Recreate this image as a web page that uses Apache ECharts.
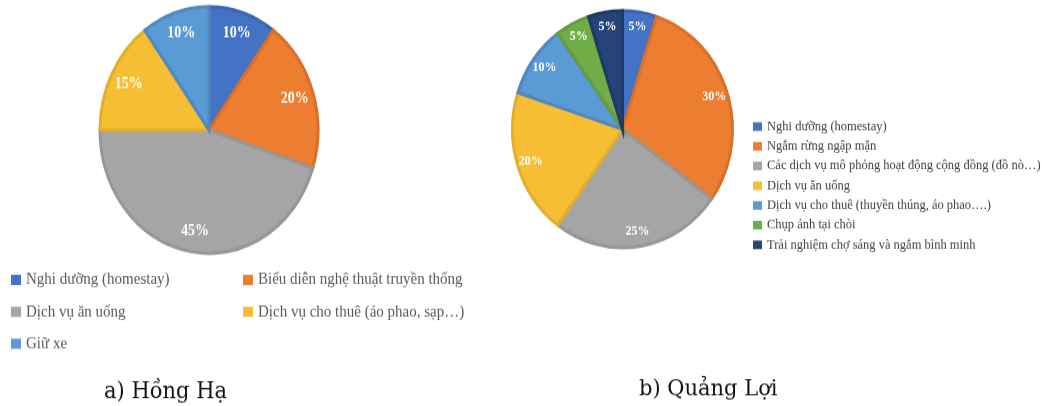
<!DOCTYPE html>
<html><head><meta charset="utf-8">
<script src="https://cdn.jsdelivr.net/npm/echarts@6/dist/echarts.min.js"></script>
<style>
html,body{margin:0;padding:0;background:#fff;width:1046px;height:406px;overflow:hidden;position:relative}
#a{position:absolute;left:0;top:0;width:500px;height:359px;transform:scaleY(1.131);transform-origin:0 0}
#b{position:absolute;left:500px;top:0;width:546px;height:377px;transform:scaleY(1.077);transform-origin:0 0}
</style></head><body>
<div id="a"></div><div id="b"></div>
<script>
const namesA = ['Nghi dưỡng (homestay)','Biểu diễn nghệ thuật truyền thống','Dịch vụ ăn uống','Dịch vụ cho thuê (áo phao, sạp…)','Giữ xe'];
const valuesA = [10,20,45,15,10];
const namesB = ['Nghi dưỡng (homestay)','Ngắm rừng ngập mặn','Các dịch vụ mô phỏng hoạt động cộng đồng (đồ nò…)','Dịch vụ ăn uống','Dịch vụ cho thuê (thuyền thúng, áo phao….)','Chụp ảnh tại chòi','Trải nghiệm chợ sáng và ngắm bình minh'];
const valuesB = [5,30,25,20,10,5,5];
const captionA = 'a) Hồng Hạ';
const captionB = 'b) Quảng Lợi';

const fillA = ['#4472C4','#ED7D31','#A5A5A5','#F6BF33','#5B9BD5'];
const edgeA = ['#3C66B2','#D8702A','#979797','#E3AE2C','#5089C0'];
const fillB = ['#4472C4','#ED7D31','#A5A5A5','#F6BF33','#5B9BD5','#70AD47','#264478'];
const edgeB = ['#3C66B2','#D8702A','#979797','#E3AE2C','#5089C0','#659C40','#203A66'];

const serif = '"Liberation Serif", "DejaVu Serif", serif';
const capFont = '"DejaVu Serif", serif';

function mk(names, values, fill, edge){
  return names.map((n,i)=>({name:n,value:values[i],itemStyle:{color:fill[i],borderColor:edge[i]}}));
}

function pieSeries(data, center, r, fs, ringIn){
  return [
    {type:'pie',center:center,radius:[0,r],startAngle:90,clockwise:true,silent:true,
     data:data,label:{show:false},labelLine:{show:false},
     itemStyle:{borderWidth:3,borderJoin:'miter'},animation:false},
    {type:'pie',center:center,radius:[r*ringIn,r],startAngle:90,clockwise:true,silent:true,
     legendHoverLink:false,
     data:data.map(d=>({name:d.name,value:d.value,itemStyle:{color:'rgba(0,0,0,0)',borderWidth:0}})),
     label:{show:true,position:'inside',formatter:'{c}%',color:'#fff',fontFamily:serif,fontWeight:'bold',fontSize:fs},
     labelLine:{show:false},animation:false}
  ];
}

const ca = echarts.init(document.getElementById('a'),null,{renderer:'canvas'});
const dA = mk(namesA,valuesA,fillA,edgeA);
const legStyleA = {fontFamily:serif,fontSize:15,color:'#595959',lineHeight:15};
ca.setOption({
  animation:false,
  color:fillA,
  legend:[
    {left:6,top:235,orient:'vertical',itemWidth:10,itemHeight:9,itemGap:13.2,icon:'rect',
     itemStyle:{borderWidth:0},
     data:[namesA[0],namesA[2],namesA[4]],selectedMode:false,textStyle:legStyleA},
    {left:238,top:235,orient:'vertical',itemWidth:10,itemHeight:9,itemGap:13.2,icon:'rect',
     itemStyle:{borderWidth:0},
     data:[namesA[1],namesA[3]],selectedMode:false,textStyle:legStyleA}
  ],
  title:{text:captionA,left:99,top:331,textStyle:{fontFamily:capFont,fontSize:21,fontWeight:'normal',color:'#111'}},
  series:pieSeries(dA,[209,115],109,14,0.6)
});

const cb = echarts.init(document.getElementById('b'),null,{renderer:'canvas'});
const dB = mk(namesB,valuesB,fillB,edgeB);
cb.setOption({
  animation:false,
  color:fillB,
  legend:{left:248,top:106,orient:'vertical',itemWidth:9,itemHeight:8,itemGap:5.3,icon:'rect',
    itemStyle:{borderWidth:0},
    data:namesB,selectedMode:false,
    textStyle:{fontFamily:serif,fontSize:12.5,color:'#404040',lineHeight:11.6}},
  title:{text:captionB,left:134,top:346,textStyle:{fontFamily:capFont,fontSize:21,fontWeight:'normal',color:'#111'}},
  series:pieSeries(dB,[122.5,120],110,12,0.7)
});
</script>
</body></html>
